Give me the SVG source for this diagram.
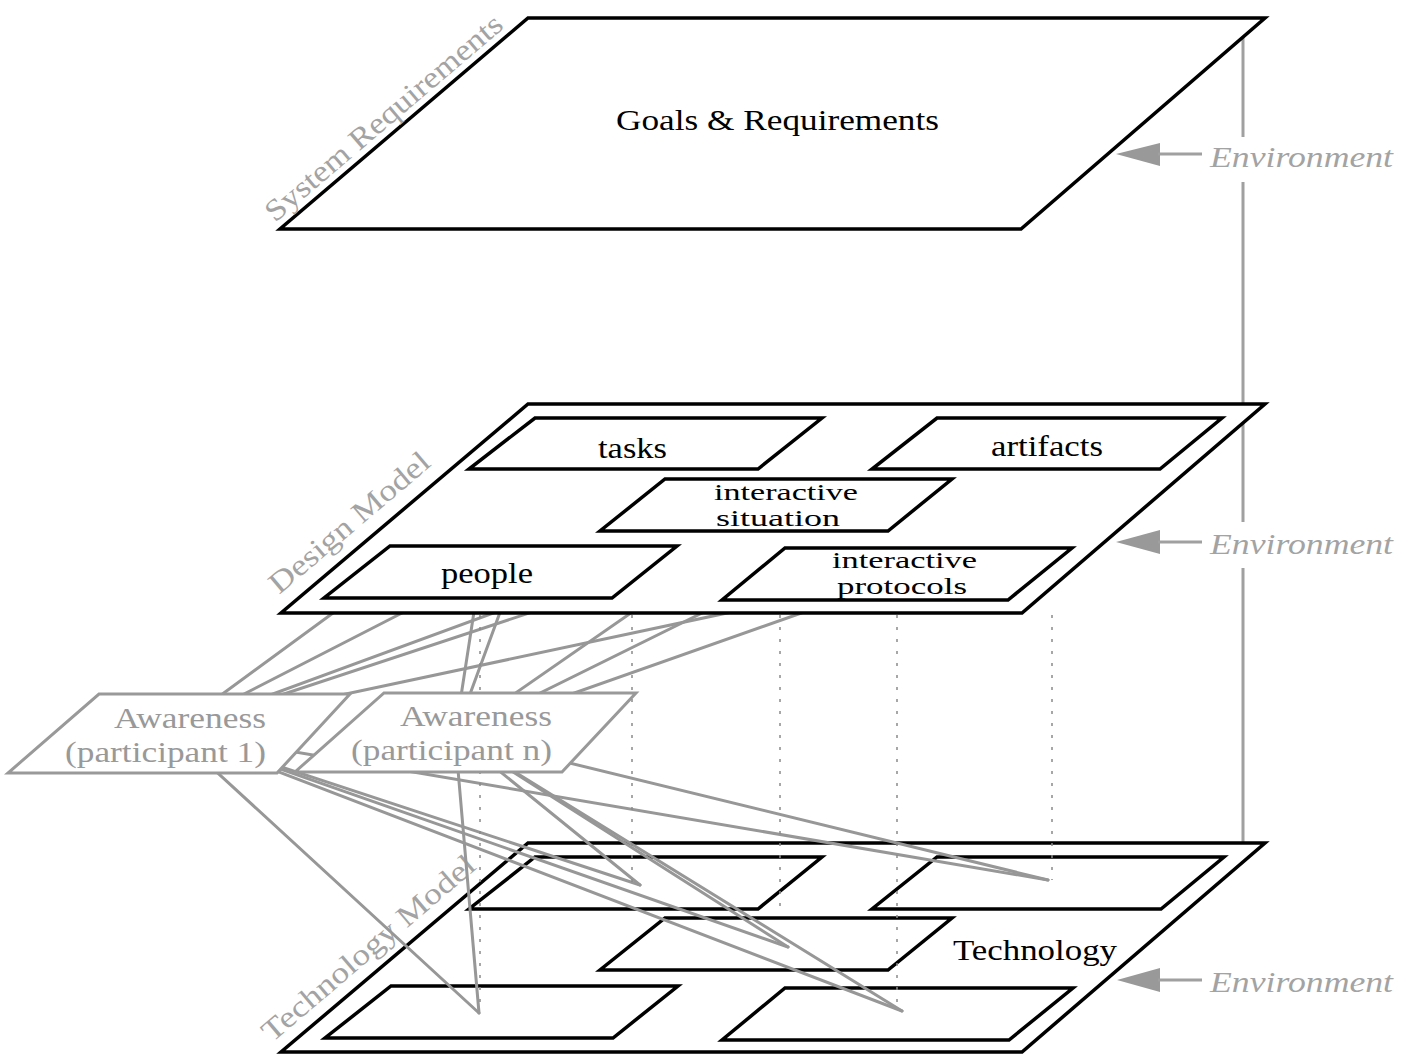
<svg xmlns="http://www.w3.org/2000/svg" width="1409" height="1055" viewBox="0 0 1409 1055">
<defs>
<style>
.plane{fill:#fff;stroke:#000;stroke-width:3.5;stroke-linejoin:miter}
.box{fill:#fff;stroke:#000;stroke-width:3.5}
.aw{fill:#fff;stroke:#999;stroke-width:3}
.con{stroke:#979797;stroke-width:3;fill:none;stroke-linecap:round}
.dot{stroke:#8a8a8a;stroke-width:1.5;stroke-dasharray:3 9;fill:none}
.env{stroke:#a0a0a0;stroke-width:3;fill:none}
.t{font-family:"Liberation Serif","Times New Roman",serif;font-size:30px;fill:#000}
.t2{font-family:"Liberation Serif","Times New Roman",serif;font-size:23px;fill:#000}
.g{font-family:"Liberation Serif","Times New Roman",serif;font-size:29px;fill:#999}
.lab{font-family:"Liberation Serif","Times New Roman",serif;font-size:30px;fill:#a3a3a3}
.e{font-family:"Liberation Serif","Times New Roman",serif;font-size:30px;font-style:italic;fill:#a3a3a3}
</style>
</defs>
<rect width="1409" height="1055" fill="#fff"/>

<g id="environment-line">
<line class="env" x1="1243" y1="20" x2="1243" y2="137"/>
<line class="env" x1="1243" y1="182" x2="1243" y2="522"/>
<line class="env" x1="1243" y1="568" x2="1243" y2="845"/>
</g>

<g id="system-requirements">
<polygon class="plane" points="528,18 1265,18 1021,229 280,229"/>
<text class="t" x="616" y="130" textLength="323" lengthAdjust="spacingAndGlyphs">Goals &amp; Requirements</text>
<text class="lab" transform="translate(275,223) rotate(-40.4)" textLength="302" lengthAdjust="spacingAndGlyphs">System Requirements</text>
</g>

<g id="technology-model">
<polygon class="plane" points="528,843 1265,843 1022,1052 281,1052"/>
<polygon class="box" points="535,857 822,857 758,909 469,909"/>
<polygon class="box" points="937,857 1224,857 1161,909 872,909"/>
<polygon class="box" points="665,918 952,918 888,970 600,970"/>
<polygon class="box" points="391,986 678,986 613,1038 325,1038"/>
<polygon class="box" points="785,988 1073,988 1009,1040 722,1040"/>
<text class="t" x="953" y="960" textLength="164" lengthAdjust="spacingAndGlyphs">Technology</text>
<text class="lab" transform="translate(272,1043) rotate(-40.4)" textLength="270" lengthAdjust="spacingAndGlyphs">Technology Model</text>
</g>

<g id="connectors">
<line class="con" x1="172" y1="731" x2="480" y2="573"/>
<line class="con" x1="172" y1="731" x2="561" y2="446"/>
<line class="con" x1="172" y1="731" x2="785" y2="506"/>
<line class="con" x1="172" y1="731" x2="915" y2="573"/>
<line class="con" x1="172" y1="731" x2="1050" y2="441"/>
<line class="con" x1="455" y1="735" x2="480" y2="573"/>
<line class="con" x1="455" y1="735" x2="561" y2="446"/>
<line class="con" x1="455" y1="735" x2="785" y2="506"/>
<line class="con" x1="455" y1="735" x2="915" y2="573"/>
<line class="con" x1="455" y1="735" x2="1050" y2="441"/>
<line class="con" x1="172" y1="731" x2="640" y2="885"/>
<line class="con" x1="172" y1="731" x2="1048" y2="880"/>
<line class="con" x1="172" y1="731" x2="788" y2="947"/>
<line class="con" x1="172" y1="731" x2="479" y2="1013"/>
<line class="con" x1="172" y1="731" x2="902" y2="1011"/>
<line class="con" x1="455" y1="735" x2="640" y2="885"/>
<line class="con" x1="455" y1="735" x2="1048" y2="880"/>
<line class="con" x1="455" y1="735" x2="788" y2="947"/>
<line class="con" x1="455" y1="735" x2="479" y2="1013"/>
<line class="con" x1="455" y1="735" x2="902" y2="1011"/>
<line class="dot" x1="480" y1="615" x2="480" y2="1008"/>
<line class="dot" x1="632" y1="615" x2="632" y2="882"/>
<line class="dot" x1="780" y1="615" x2="780" y2="912"/>
<line class="dot" x1="897" y1="615" x2="897" y2="1010"/>
<line class="dot" x1="1052" y1="615" x2="1052" y2="880"/>
</g>

<g id="design-model">
<polygon class="plane" points="528,404 1265,404 1022,613 281,613"/>
<polygon class="box" points="535,418 822,418 758,469 469,469"/>
<polygon class="box" points="937,418 1222,418 1160,469 872,469"/>
<polygon class="box" points="665,479 952,479 888,531 600,531"/>
<polygon class="box" points="390,546 677,546 612,598 324,598"/>
<polygon class="box" points="785,548 1072,548 1008,600 722,600"/>
<text class="t" x="598" y="458" textLength="69" lengthAdjust="spacingAndGlyphs">tasks</text>
<text class="t" x="991" y="456" textLength="112" lengthAdjust="spacingAndGlyphs">artifacts</text>
<text class="t2" x="714" y="500" textLength="144" lengthAdjust="spacingAndGlyphs">interactive</text>
<text class="t2" x="716" y="526" textLength="124" lengthAdjust="spacingAndGlyphs">situation</text>
<text class="t" x="441" y="583" textLength="92" lengthAdjust="spacingAndGlyphs">people</text>
<text class="t2" x="832" y="568" textLength="145" lengthAdjust="spacingAndGlyphs">interactive</text>
<text class="t2" x="837" y="594" textLength="130" lengthAdjust="spacingAndGlyphs">protocols</text>
<text class="lab" transform="translate(279,595) rotate(-40.3)" textLength="201" lengthAdjust="spacingAndGlyphs">Design Model</text>
</g>

<g id="awareness-1">
<polygon class="aw" points="99,694 350,694 277,773 8,773"/>
<text class="g" x="114" y="728" textLength="152" lengthAdjust="spacingAndGlyphs">Awareness</text>
<text class="g" x="65" y="762" textLength="201" lengthAdjust="spacingAndGlyphs">(participant 1)</text>
</g>

<g id="awareness-n">
<polygon class="aw" points="384,693 636,693 562,772 295,772"/>
<text class="g" x="400" y="726" textLength="152" lengthAdjust="spacingAndGlyphs">Awareness</text>
<text class="g" x="351" y="760" textLength="201" lengthAdjust="spacingAndGlyphs">(participant n)</text>
</g>

<g id="env-top">
<polygon points="1116,154 1160,143 1160,166" fill="#999"/>
<line class="env" x1="1158" y1="154" x2="1202" y2="154"/>
<text class="e" x="1210" y="167" textLength="183" lengthAdjust="spacingAndGlyphs">Environment</text>
</g>
<g id="env-design">
<polygon points="1116,542 1160,530 1160,554" fill="#999"/>
<line class="env" x1="1158" y1="542" x2="1202" y2="542"/>
<text class="e" x="1210" y="554" textLength="183" lengthAdjust="spacingAndGlyphs">Environment</text>
</g>
<g id="env-tech">
<polygon points="1117,980 1160,968 1160,992" fill="#999"/>
<line class="env" x1="1158" y1="980" x2="1202" y2="980"/>
<text class="e" x="1210" y="992" textLength="183" lengthAdjust="spacingAndGlyphs">Environment</text>
</g>
</svg>
